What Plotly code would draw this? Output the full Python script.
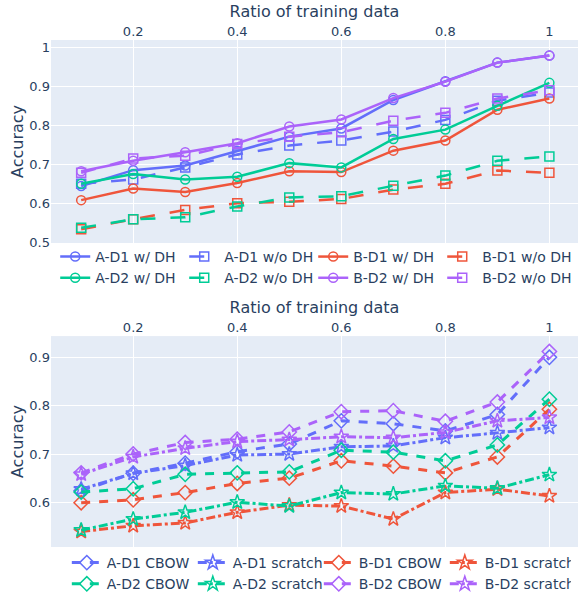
import plotly.graph_objects as go

x = [0.1, 0.2, 0.3, 0.4, 0.5, 0.6, 0.7, 0.8, 0.9, 1.0]

# Top panel: with / without DH
a_d1_dh   = [0.644, 0.685, 0.697, 0.735, 0.771, 0.792, 0.865, 0.913, 0.961, 0.979]
a_d1_nodh = [0.650, 0.661, 0.692, 0.725, 0.748, 0.761, 0.784, 0.814, 0.863, 0.884]
b_d1_dh   = [0.608, 0.638, 0.629, 0.652, 0.682, 0.680, 0.735, 0.761, 0.840, 0.869]
b_d1_nodh = [0.533, 0.559, 0.583, 0.600, 0.604, 0.611, 0.635, 0.650, 0.684, 0.678]
a_d2_dh   = [0.650, 0.675, 0.661, 0.668, 0.703, 0.692, 0.765, 0.789, 0.850, 0.909]
a_d2_nodh = [0.537, 0.559, 0.564, 0.592, 0.615, 0.618, 0.645, 0.671, 0.709, 0.720]
b_d2_dh   = [0.682, 0.709, 0.731, 0.754, 0.797, 0.815, 0.870, 0.912, 0.961, 0.979]
b_d2_nodh = [0.678, 0.715, 0.722, 0.752, 0.771, 0.782, 0.812, 0.832, 0.869, 0.890]

# Bottom panel: CBOW / scratch
a_d1_cbow    = [0.624, 0.660, 0.681, 0.705, 0.721, 0.769, 0.763, 0.748, 0.782, 0.901]
a_d1_scratch = [0.627, 0.660, 0.676, 0.698, 0.700, 0.715, 0.717, 0.734, 0.744, 0.755]
b_d1_cbow    = [0.599, 0.605, 0.620, 0.639, 0.650, 0.686, 0.675, 0.661, 0.694, 0.793]
b_d1_scratch = [0.539, 0.551, 0.557, 0.579, 0.594, 0.592, 0.565, 0.620, 0.627, 0.613]
a_d2_cbow    = [0.621, 0.628, 0.658, 0.661, 0.663, 0.708, 0.704, 0.686, 0.719, 0.814]
a_d2_scratch = [0.542, 0.565, 0.579, 0.600, 0.592, 0.620, 0.617, 0.634, 0.629, 0.657]
b_d2_cbow    = [0.661, 0.700, 0.724, 0.731, 0.746, 0.788, 0.790, 0.768, 0.808, 0.913]
b_d2_scratch = [0.658, 0.694, 0.712, 0.726, 0.730, 0.736, 0.734, 0.745, 0.769, 0.776]

x_ticks = [0.2, 0.4, 0.6, 0.8, 1.0]

BLUE, RED, GREEN, PURPLE = "#636EFA", "#EF553B", "#00CC96", "#AB63FA"
FONT = "Verdana, DejaVu Sans, sans-serif"

fig = go.Figure()

top = [
    ("A-D1 w/ DH", a_d1_dh, BLUE, "solid", "circle-open"),
    ("A-D1 w/o DH", a_d1_nodh, BLUE, "longdash", "square-open"),
    ("B-D1 w/ DH", b_d1_dh, RED, "solid", "circle-open"),
    ("B-D1 w/o DH", b_d1_nodh, RED, "longdash", "square-open"),
    ("A-D2 w/ DH", a_d2_dh, GREEN, "solid", "circle-open"),
    ("A-D2 w/o DH", a_d2_nodh, GREEN, "longdash", "square-open"),
    ("B-D2 w/ DH", b_d2_dh, PURPLE, "solid", "circle-open"),
    ("B-D2 w/o DH", b_d2_nodh, PURPLE, "longdash", "square-open"),
]
for name, ys, c, dash, sym in top:
    fig.add_trace(go.Scatter(
        x=x, y=ys, name=name, mode="lines+markers",
        line=dict(color=c, width=2.5, dash=dash),
        marker=dict(symbol=sym, size=9, color=c, line=dict(width=1.5, color=c)),
        xaxis="x", yaxis="y", legend="legend",
    ))

bottom = [
    ("A-D1 CBOW", a_d1_cbow, BLUE, "dash", "diamond-open"),
    ("A-D1 scratch", a_d1_scratch, BLUE, "dashdot", "star-open"),
    ("B-D1 CBOW", b_d1_cbow, RED, "dash", "diamond-open"),
    ("B-D1 scratch", b_d1_scratch, RED, "dashdot", "star-open"),
    ("A-D2 CBOW", a_d2_cbow, GREEN, "dash", "diamond-open"),
    ("A-D2 scratch", a_d2_scratch, GREEN, "dashdot", "star-open"),
    ("B-D2 CBOW", b_d2_cbow, PURPLE, "dash", "diamond-open"),
    ("B-D2 scratch", b_d2_scratch, PURPLE, "dashdot", "star-open"),
]
for name, ys, c, dash, sym in bottom:
    fig.add_trace(go.Scatter(
        x=x, y=ys, name=name, mode="lines+markers",
        line=dict(color=c, width=3, dash=dash),
        marker=dict(symbol=sym, size=11, color=c, line=dict(width=1.5, color=c)),
        xaxis="x2", yaxis="y2", legend="legend2",
    ))

axis_common = dict(
    tickvals=x_ticks, ticktext=["0.2", "0.4", "0.6", "0.8", "1"],
    side="top", range=[0.042, 1.055], tickfont=dict(size=13), automargin=True,
    title=dict(text="Ratio of training data", font=dict(size=16), standoff=2),
)
yaxis_common = dict(dtick=0.1, tickfont=dict(size=13), automargin=True,
                    title=dict(text="Accuracy", font=dict(size=16), standoff=1))

fig.update_layout(
    template="plotly",
    width=578, height=594,
    font=dict(family=FONT, color="#2a3f5f"),
    margin=dict(l=51, r=0, t=40, b=47, autoexpand=False),
    xaxis=dict(anchor="y", domain=[0, 1], **axis_common),
    xaxis2=dict(anchor="y2", domain=[0, 1], **axis_common),
    yaxis=dict(domain=[0.5996, 1], range=[0.498, 1.019], **yaxis_common),
    yaxis2=dict(domain=[0, 0.416], range=[0.507, 0.945], **yaxis_common),
    legend=dict(orientation="h", x=0.008, xanchor="left", y=0.6036, yanchor="top",
                entrywidth=84, font=dict(size=14), bgcolor="rgba(0,0,0,0)"),
    legend2=dict(orientation="h", x=0.03, xanchor="left", y=0.0, yanchor="top",
                 entrywidth=81, font=dict(size=14), bgcolor="rgba(0,0,0,0)"),
)

fig.write_html(
    "out.html",
    config={"displayModeBar": False},
    post_script="document.body.style.margin='0px';document.body.style.overflow='hidden';",
)
